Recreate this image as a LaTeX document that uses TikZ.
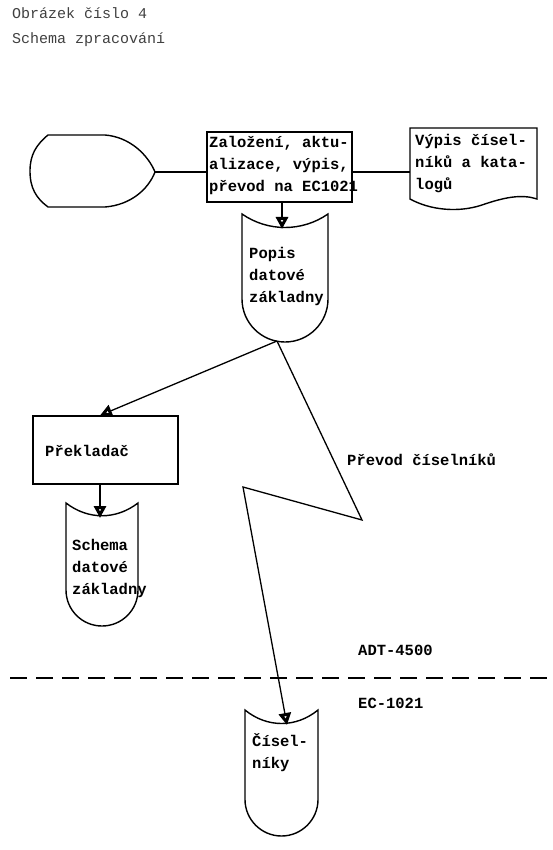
\documentclass[tikz,border=0pt]{standalone}
\usepackage{fontspec}
\setmonofont{Liberation Mono}
\usetikzlibrary{arrows.meta}
\newcommand\mystr{\rule{0pt}{15pt}}
\begin{document}
\begin{tikzpicture}[x=1pt,y=-1pt,
  txt/.style={font=\fontsize{15.5}{22}\selectfont\ttfamily\bfseries, anchor=north west, align=left, inner sep=0pt},
  ttl/.style={txt, text=black!75, font=\fontsize{15}{25}\selectfont\ttfamily},
  shp/.style={line width=1.4pt},
  boxs/.style={draw, line width=1.2pt, inner sep=0pt},
  conn/.style={line width=1.3pt},
  arr/.style={conn, -{Triangle[open,length=12pt,width=12pt,line width=3pt]}}]
\useasboundingbox (0,0) rectangle (553,850);

% title
\node[ttl] (title) at (12,3) {\mystr Obrázek číslo 4\\Schema zpracování};

% terminal
\draw[shp] (48,135) -- (105,135) .. controls (130,137) and (148,155) .. (155,172)
  .. controls (148,190) and (130,205) .. (105,207) -- (48,207)
  .. controls (36,198) and (30,188) .. (30,171) .. controls (30,155) and (36,145) .. (48,135) -- cycle;
\coordinate (termtip) at (155,172);

% process box
\node[boxs, minimum width=145pt, minimum height=70pt] (box1) at (279.5,167) {};
\node[txt] (box1t) at (209,132) {\mystr Založení, aktu-\\alizace, výpis,\\převod na EC1021};

% document
\draw[shp] (410,128) -- (537,128) -- (537,199) .. controls (522,194) and (505,197) .. (482,205)
  .. controls (458,213) and (430,210) .. (410,199) -- cycle;
\node[minimum width=127pt, minimum height=71pt, inner sep=0pt] (doc) at (473.5,163.5) {};
\node[txt] (doct) at (415,130) {\mystr Výpis čísel-\\níků a kata-\\logů};

% Popis datove zakladny (storage)
\draw[shp] (242,214) .. controls (268,232) and (302,232) .. (328,214) -- (328,299)
  .. controls (328,322.7) and (308.7,342) .. (285,342) .. controls (261.3,342) and (242,322.7) .. (242,299) -- cycle;
\coordinate (popistop) at (282,229);
\coordinate (popisbot) at (277,341);
\node[txt] (popist) at (249,243) {\mystr Popis\\datové\\základny};

% Prekladac
\node[boxs, minimum width=145pt, minimum height=68pt] (prek) at (105.5,450) {};
\node[txt] (prekt) at (45,441) {\mystr Překladač};

% Schema datove zakladny
\draw[shp] (66,503) .. controls (88,520) and (116,520) .. (138,503) -- (138,590)
  .. controls (138,609.9) and (121.9,626) .. (102,626) .. controls (82.1,626) and (66,609.9) .. (66,590) -- cycle;
\coordinate (schematop) at (100,518);
\node[txt] (schemat) at (72,535) {\mystr Schema\\datové\\základny};

% Ciselniky
\draw[shp] (245,710) .. controls (267,728) and (296,728) .. (318,710) -- (318,799.5)
  .. controls (318,819.6) and (301.6,836) .. (281.5,836) .. controls (261.4,836) and (245,819.6) .. (245,799.5) -- cycle;
\coordinate (cistop) at (287,725);
\node[txt] (cist) at (252,731) {\mystr Čísel-\\níky};

% zigzag
\coordinate (z1) at (362,520);
\coordinate (z2) at (243,487);
\node[txt] (prevod) at (347,450) {\mystr Převod číselníků};

% connectors
\draw[conn] (termtip) -- (termtip -| box1.west);
\draw[conn] (box1.east |- termtip) -- (doc.west |- termtip);
\draw[arr] (box1.south -| popistop) -- (popistop);
\draw[arr] (popisbot) -- (prek.north -| schematop);
\draw[arr] (prek.south -| schematop) -- (schematop);
\draw[arr] (popisbot) -- (z1) -- (z2) -- (cistop);

% boundary
\coordinate (dl) at (10,678);
\coordinate (dr) at (553,678);
\draw[conn, dash pattern=on 17pt off 9pt] (dl) -- (dr);
\node[txt] (adt) at (358,640) {\mystr ADT-4500};
\node[txt] (ec) at (358,693) {\mystr EC-1021};
\end{tikzpicture}
\end{document}
